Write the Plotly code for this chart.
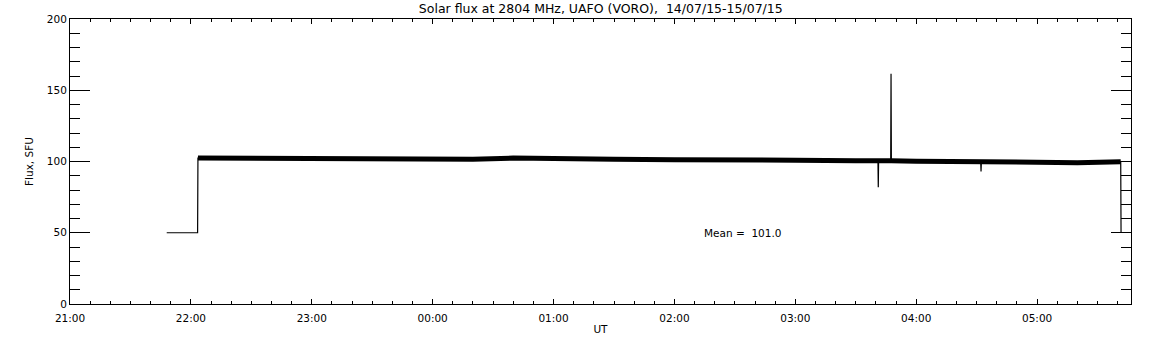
import plotly.graph_objects as go

# Data
times = [
    "2015-07-14 21:48:00", "2015-07-14 22:03:20", "2015-07-14 22:03:30",
    "2015-07-14 22:30:00", "2015-07-14 23:00:00", "2015-07-14 23:30:00",
    "2015-07-15 00:00:00", "2015-07-15 00:20:00", "2015-07-15 00:40:00",
    "2015-07-15 01:00:00", "2015-07-15 01:30:00", "2015-07-15 02:00:00",
    "2015-07-15 02:30:00", "2015-07-15 03:00:00", "2015-07-15 03:30:00",
    "2015-07-15 03:41:00", "2015-07-15 03:41:10", "2015-07-15 03:41:20",
    "2015-07-15 03:47:20", "2015-07-15 03:47:30", "2015-07-15 03:47:40",
    "2015-07-15 04:00:00", "2015-07-15 04:30:00", "2015-07-15 04:32:00",
    "2015-07-15 04:32:10", "2015-07-15 04:32:20", "2015-07-15 05:00:00",
    "2015-07-15 05:20:00", "2015-07-15 05:41:30", "2015-07-15 05:41:40",
]
flux = [
    50, 50, 102.4,
    102.2, 102.0, 102.2,
    101.3, 101.6, 102.4,
    101.8, 101.5, 101.2,
    100.7, 100.9, 100.6,
    100.8, 82, 100.8,
    100.6, 161.5, 100.6,
    100.2, 99.9, 99.6,
    93, 99.6, 99.2,
    99.2, 99.8, 50,
]
band_start, band_end = 2, 29   # indices of the noisy band part
spike_idx = [16, 19, 24]       # isolated spikes drawn thin only

title = "Solar flux at 2804 MHz, UAFO (VORO),  14/07/15-15/07/15"
mean_text = "Mean =  101.0"
x_range = ["2015-07-14 21:00:00", "2015-07-15 05:46:36"]
y_range = [0, 200]

font = "DejaVu Sans"

band_i = [i for i in range(band_start, band_end) if i not in spike_idx]

fig = go.Figure()
fig.add_trace(go.Scatter(
    x=[times[i] for i in band_i], y=[flux[i] for i in band_i], mode="lines",
    line=dict(color="black", width=5), hoverinfo="skip", showlegend=False))
fig.add_trace(go.Scatter(
    x=times, y=flux, mode="lines",
    line=dict(color="black", width=1.2), showlegend=False))

fig.update_layout(
    width=1152, height=345,
    margin=dict(l=70, r=21, t=19, b=41, pad=0, autoexpand=False),
    paper_bgcolor="white", plot_bgcolor="white",
    font=dict(family=font, size=11, color="black"),
    title=dict(text=title, x=0.5215, xanchor="center", y=1 - 8.5 / 345,
               yanchor="middle", yref="container", automargin=False,
               font=dict(family=font, size=12.5, color="black")),
    showlegend=False,
)
fig.update_xaxes(
    type="date", range=x_range, tickformat="%H:%M", dtick=3600000,
    tick0="2015-07-14 21:00:00", automargin=False,
    showgrid=False, zeroline=False, showline=True, linecolor="black",
    linewidth=1, mirror="ticks", ticks="inside", ticklen=5, tickwidth=1,
    tickcolor="black", ticklabelstandoff=4,
    minor=dict(dtick=600000, ticks="inside", ticklen=3, tickwidth=1,
               tickcolor="black", showgrid=False),
    title=dict(text="UT", standoff=3, font=dict(size=10.5)),
    tickfont=dict(size=10.5),
)
fig.update_yaxes(
    range=y_range, dtick=50, showgrid=False, zeroline=False, showline=True,
    linecolor="black", linewidth=1, mirror="ticks", ticks="inside",
    ticklen=20, tickwidth=1, tickcolor="black", automargin=False,
    minor=dict(dtick=10, ticks="inside", ticklen=10, tickwidth=1,
               tickcolor="black", showgrid=False),
    title=dict(text="Flux, SFU", standoff=11, font=dict(size=10.5)),
    tickfont=dict(size=10.5),
)
fig.add_annotation(
    x="2015-07-15 02:34:00", y=50, xref="x", yref="y", text=mean_text,
    showarrow=False, xanchor="center", yanchor="middle",
    font=dict(family=font, size=10.5, color="black"))

fig.write_html("out.html", config={"displayModeBar": False},
               post_script="document.body.style.margin='0';"
                           "document.body.style.overflow='hidden';")
